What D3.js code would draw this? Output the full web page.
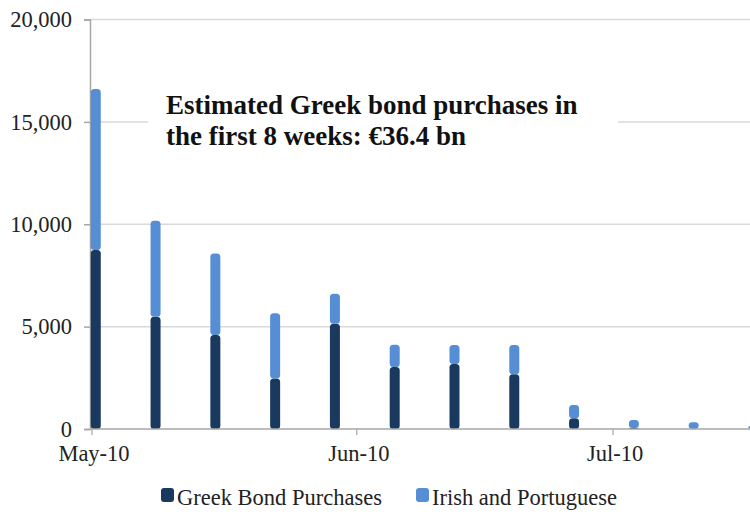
<!DOCTYPE html>
<html>
<head>
<meta charset="utf-8">
<script src="https://cdn.jsdelivr.net/npm/d3@7"></script>
<style>
  html, body { margin: 0; padding: 0; background: #fff; }
  svg { display: block; }
</style>
</head>
<body>
<svg id="chart" width="750" height="514"></svg>
<script>
// Weekly ECB Securities Markets Programme purchases, € millions
const weeks = ["2010-05-01", "2010-05-08", "2010-05-15", "2010-05-22", "2010-05-29", "2010-06-05",
               "2010-06-12", "2010-06-19", "2010-06-26", "2010-07-03", "2010-07-10", "2010-07-17"];
const greek = [8740, 5480, 4590, 2470, 5140, 3030, 3170, 2680, 520, 50, 0, 0];
const irishPortuguese = [7860, 4690, 3980, 3180, 1470, 1090, 930, 1420, 650, 390, 330, 160];
const seriesNames = ["Greek Bond Purchases", "Irish and Portuguese"];
const seriesColors = ["#19395f", "#558ed5"];
const yTicks = [0, 5000, 10000, 15000, 20000];
const monthTicks = ["2010-05-01", "2010-06-01", "2010-07-01"];
const noteLines = ["Estimated Greek bond purchases in", "the first 8 weeks: \u20ac36.4 bn"];

const serif = "'Liberation Serif', 'Times New Roman', Times, serif";
const parse = d3.utcParse("%Y-%m-%d");
const rows = weeks.map((w, i) => ({ date: parse(w), greek: greek[i], other: irishPortuguese[i] }));

const svg = d3.select("#chart");
const plotLeft = 90, plotBottom = 429, plotTop = 19.5, plotRight = 760;

const x = d3.scaleUtc()
  .domain([parse("2010-05-01"), parse("2010-07-01")])
  .range([91.5, 612.5]);
const y = d3.scaleLinear().domain([0, 20000]).range([plotBottom, plotTop]);

// horizontal gridlines
svg.append("g")
  .selectAll("line")
  .data(yTicks.filter(d => d > 0))
  .join("line")
  .attr("x1", plotLeft).attr("x2", plotRight)
  .attr("y1", d => y(d)).attr("y2", d => y(d))
  .attr("stroke", "#d9d9d9").attr("stroke-width", 1.5);

// y axis
const yAxis = svg.append("g")
  .attr("transform", `translate(${plotLeft},0)`)
  .call(d3.axisLeft(y).tickValues(yTicks).tickFormat(d3.format(",")).tickSize(6).tickPadding(12))
  .attr("font-family", serif);
yAxis.select(".domain").attr("stroke", "#a6a6a6").attr("stroke-width", 1.5);
yAxis.selectAll(".tick line").attr("stroke", "#a6a6a6").attr("stroke-width", 1.5);
yAxis.selectAll(".tick text")
  .attr("font-family", serif).attr("font-size", 22.5).attr("fill", "#222");

// stacked bars, one per week, centred on the middle of the day
const stack = d3.stack().keys(["greek", "other"])(rows);
const barW = 10;
const halfDay = 12 * 3600 * 1000;
const bars = svg.append("g");
stack.forEach((layer, li) => {
  bars.append("g")
    .attr("fill", seriesColors[li])
    .selectAll("rect")
    .data(layer.filter(d => d[1] - d[0] > 0))
    .join("rect")
    .attr("x", d => x(new Date(+d.data.date + halfDay)) - barW / 2)
    .attr("y", d => y(d[1]))
    .attr("width", barW)
    .attr("height", d => y(d[0]) - y(d[1]))
    .attr("rx", 3.5);
});

// x axis
const xAxis = svg.append("g")
  .attr("transform", `translate(0,${plotBottom})`)
  .call(d3.axisBottom(x)
    .tickValues(monthTicks.map(parse))
    .tickFormat(d3.utcFormat("%b-%y"))
    .tickSize(6).tickPadding(10))
  .attr("font-family", serif);
xAxis.select(".domain").attr("d", `M${plotLeft},0H${plotRight}`).attr("stroke", "#a6a6a6").attr("stroke-width", 1.5);
xAxis.selectAll(".tick line").attr("stroke", "#a6a6a6").attr("stroke-width", 1.2);
xAxis.selectAll(".tick text")
  .attr("font-family", serif).attr("font-size", 22.5).attr("fill", "#222").attr("dx", 2);

// annotation box
const note = svg.append("g");
note.append("rect")
  .attr("x", 148).attr("y", 76).attr("width", 470).attr("height", 84)
  .attr("fill", "#fff");
note.selectAll("text")
  .data(noteLines)
  .join("text")
  .attr("x", 166)
  .attr("y", (d, i) => 114 + i * 30.5)
  .attr("font-family", serif)
  .attr("font-size", 27)
  .attr("font-weight", "bold")
  .attr("fill", "#111")
  .text(d => d);

// legend
const legendX = [161, 416];
const legend = svg.append("g");
seriesNames.forEach((name, i) => {
  legend.append("rect")
    .attr("x", legendX[i]).attr("y", 488)
    .attr("width", 13).attr("height", 14).attr("rx", 3)
    .attr("fill", seriesColors[i]);
  legend.append("text")
    .attr("x", legendX[i] + 16).attr("y", 505)
    .attr("font-family", serif)
    .attr("font-size", 22.5).attr("fill", "#222")
    .text(name);
});
</script>
</body>
</html>
